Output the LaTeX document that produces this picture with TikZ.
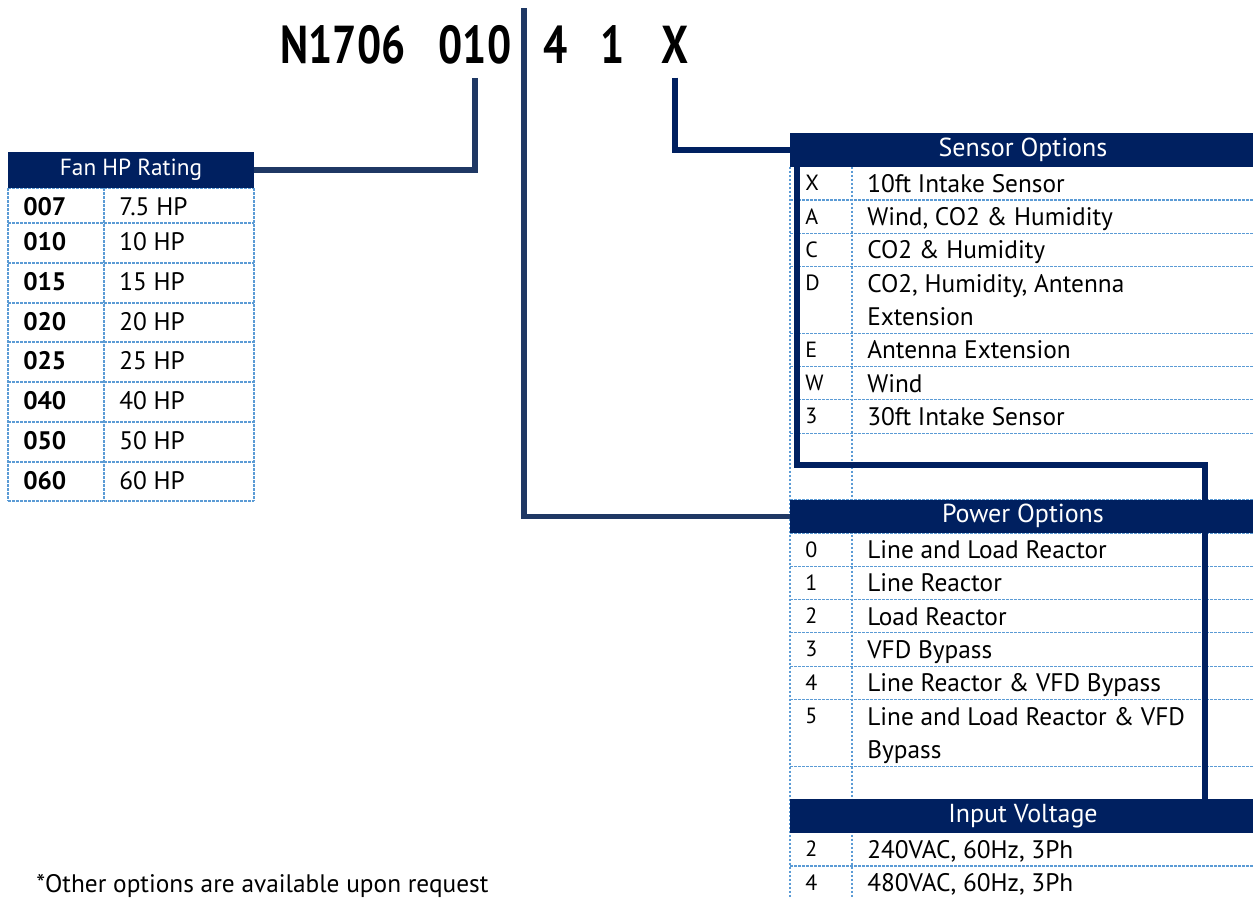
\documentclass[tikz,border=0pt]{standalone}
\usepackage{fontspec}
\setmainfont{PT Sans}
\newfontfamily\partfont[FakeStretch=0.8]{PT Sans}
\usetikzlibrary{positioning,calc}
\definecolor{cNavy}{HTML}{002060}
\definecolor{cLink}{HTML}{1F3864}
\definecolor{cGrid}{HTML}{5B9BD5}
\tikzset{
  part/.style  ={anchor=base,inner sep=0pt,outer ysep=11pt,
                 font=\partfont\fontsize{40}{48}\selectfont\bfseries},
  head/.style  ={fill=cNavy,text=white,inner sep=0pt,minimum width=349.5pt,
                 minimum height=25pt,font=\fontsize{19.5}{22}\selectfont},
  hfan/.style  ={head,minimum width=184.5pt,minimum height=27pt,
                 font=\fontsize{17.5}{22}\selectfont},
  gline/.style ={cGrid,line width=0.8pt,dash pattern=on 2pt off 1pt},
  keytxt/.style={anchor=base west,inner sep=0pt,font=\fontsize{16.5}{20}\selectfont},
  desc/.style  ={anchor=base west,inner sep=0pt,align=left,
                 font=\fontsize{19}{24.98}\selectfont},
  fkey/.style  ={desc,font=\fontsize{19}{24}\selectfont\bfseries},
  link/.style  ={cLink,line width=4pt},
  note/.style  ={anchor=base west,inner sep=0pt,font=\fontsize{19}{24}\selectfont},
}
\begin{document}
\begin{tikzpicture}[x=0.75pt,y=-0.75pt]
\useasboundingbox (0,0) rectangle (1253,897);
\clip (0,0) rectangle (1253,897);
\node[part] (tN)   at (343,63) {N1706};
\node[part] (t010) at (475,63) {010};
\node[part] (t4)   at (556,63) {4};
\node[part] (t1)   at (613,63) {1};
\node[part] (tX)   at (675,63) {X};

\foreach \y in {188,223,263,303,342,382,422,462,501}
  \draw[gline] (8,\y) -- (254,\y);
\foreach \x in {8,104,254}
  \draw[gline] (\x,188) -- (\x,501);
\foreach \k in {1,2,3,4,6,7,8,9,11,12,13,14,15,16,17,19,20,21,22,23}
  \draw[gline] (790,{133.4+33.3*\k}) -- (1256,{133.4+33.3*\k});
\foreach \x in {790,852}
  \draw[gline] (\x,166.7) -- (\x,897);

\node[hfan] (hFan) at (131,170) {Fan HP Rating};
\node[head] (hSen) at (1023,150) {Sensor Options};
\node[head] (hPow) at (1023,516.3) {Power Options};
\node[head] (hVol) at (1023,816) {Input Voltage};

\foreach \y/\c/\v in {188/007/7.5 HP,223/010/10 HP,263/015/15 HP,303/020/20 HP,
                      342/025/25 HP,382/040/40 HP,422/050/50 HP,462/060/60 HP}{
  \node[fkey] (f\c) at (23,{\y+27}) {\c};
  \node[desc] (v\c) at (119,{\y+27}) {\v};
}
\foreach \k/\n/\c/\d in {1/0/X/10ft Intake Sensor,2/0/A/{Wind, CO2 \& Humidity},
                      3/0/C/CO2 \& Humidity,4/1/D/{CO2, Humidity, Antenna\\Extension},
                      6/0/E/Antenna Extension,7/0/W/Wind,8/0/3/30ft Intake Sensor,
                      12/0/0/Line and Load Reactor,13/0/1/Line Reactor,14/0/2/Load Reactor,
                      15/0/3/VFD Bypass,16/0/4/Line Reactor \& VFD Bypass,
                      17/1/5/{Line and Load Reactor \& VFD\\Bypass},
                      21/0/2/{240VAC, 60Hz, 3Ph},22/0/4/{480VAC, 60Hz, 3Ph}}{
  \node[keytxt] (s\k) at (805,{133.4+33.3*\k+24}) {\c};
  \node[desc] (d\k) at (867,{133.4+33.3*(\k+\n)+25.5}) {\d};
}

\node[note] (foot) at (36,892) {*Other options are available upon request};

\coordinate (barTop) at (524,8);
\coordinate (loopR) at (1205,465);
\coordinate (loopL) at (797,465);
\draw[link] (t010.south) |- (hFan.east);
\draw[link] (barTop) |- (hPow.west);
\draw[link,cNavy] (tX.south) |- (hSen.west);
\draw[link,cNavy] (hVol.north -| loopR) -- (loopR) -- (loopL) -- (loopL |- hSen.south);
\end{tikzpicture}
\end{document}
